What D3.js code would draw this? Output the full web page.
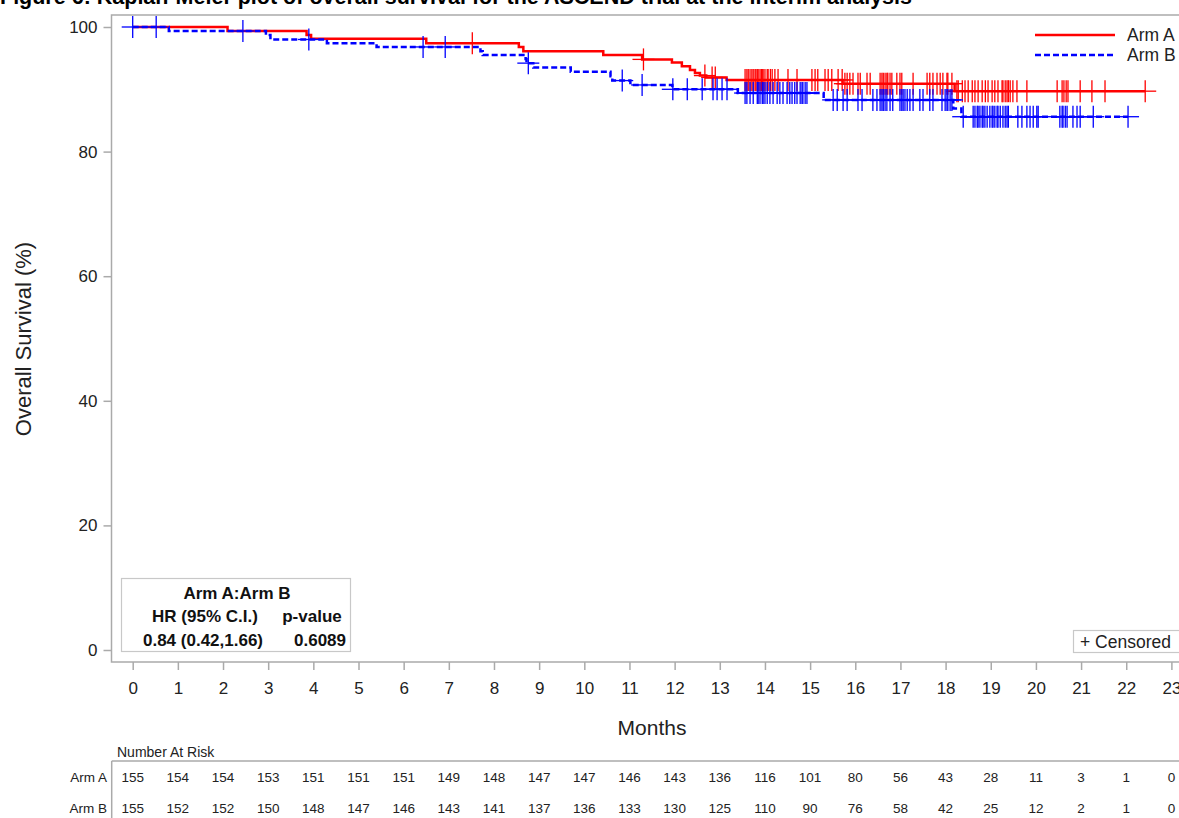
<!DOCTYPE html>
<html>
<head>
<meta charset="utf-8">
<script src="https://cdn.jsdelivr.net/npm/d3@7/dist/d3.min.js"></script>
<style>
  html, body { margin: 0; padding: 0; background: #fff; }
  svg { display: block; font-family: "Liberation Sans", Arial, Helvetica, sans-serif; }
</style>
</head>
<body>
<svg id="km" width="1179" height="818"></svg>
<script>
// ---- data ----
const xTicks = [0,1,2,3,4,5,6,7,8,9,10,11,12,13,14,15,16,17,18,19,20,21,22,23];
const yTicks = [0,20,40,60,80,100];

// Kaplan-Meier steps: month of each drop and survival (%) after it
const armAStepTime = [2.1, 3.85, 3.95, 6.5, 8.55, 8.65, 10.42, 11.28, 11.94, 12.16, 12.34, 12.45, 12.56, 12.7, 13.15, 15.72, 18.2];
const armAStepSurv = [99.35, 98.7, 98.1, 97.4, 96.8, 96.1, 95.5, 94.8, 94.3, 93.7, 93.1, 92.6, 92.2, 91.9, 91.5, 90.9, 89.7];
const armBStepTime = [0.8, 2.95, 3.05, 4.3, 5.4, 7.7, 7.75, 8.7, 8.72, 8.87, 9.7, 10.58, 10.62, 11.02, 11.95, 13.4, 15.3, 18.17, 18.35];
const armBStepSurv = [99.35, 98.7, 98.0, 97.4, 96.8, 96.1, 95.5, 94.85, 94.2, 93.5, 92.8, 92.1, 91.4, 90.7, 90.0, 89.4, 88.3, 86.9, 85.6];

// censoring times (months)
const armACensor = [7.52, 11.31, 12.67, 12.83, 12.9, 13.56, 13.6, 13.63, 13.67, 13.71, 13.74, 13.78, 13.8, 13.83, 13.85, 13.89, 13.92, 13.94, 13.96, 14.0, 14.05, 14.07, 14.12, 14.16, 14.22, 14.29, 14.51, 14.71,
  15.04, 15.11, 15.17, 15.33, 15.4, 15.48, 15.62, 15.71, 15.77, 15.82, 15.88, 15.95, 16.06, 16.11, 16.26, 16.33, 16.55, 16.59, 16.62, 16.66, 16.7, 16.72, 16.77, 16.81, 16.92, 16.99,
  17.03, 17.28, 17.59, 17.65, 17.72, 17.81, 17.88, 17.94, 18.03, 18.05, 18.14, 18.25, 18.28, 18.37, 18.43, 18.5, 18.59, 18.65, 18.72, 18.81, 18.88, 18.94,
  19.03, 19.09, 19.16, 19.25, 19.27, 19.32, 19.36, 19.39, 19.43, 19.49, 19.58, 19.8, 20.47, 20.58, 20.62, 20.67, 20.71, 20.98, 21.24, 21.53, 22.42];
const armBCensor = [0.0, 0.52, 2.44, 3.9, 6.43, 6.92, 8.76, 10.84, 11.28, 11.96, 12.28, 12.61, 12.85, 12.94, 13.05, 13.16,
  13.56, 13.6, 13.67, 13.74, 13.83, 13.85, 13.89, 13.94, 13.96, 14.0, 14.05, 14.11, 14.18, 14.27, 14.33, 14.4, 14.49, 14.55, 14.6, 14.66, 14.71, 14.78, 14.82, 14.84, 14.89, 14.93,
  15.51, 15.6, 15.73, 15.82, 16.06, 16.15, 16.39, 16.48, 16.55, 16.59, 16.62, 16.66, 16.7, 16.77, 16.83, 16.99, 17.03, 17.06, 17.1, 17.15, 17.21, 17.28, 17.43, 17.5, 17.65, 17.72,
  17.92, 17.99, 18.03, 18.05, 18.1, 18.14, 18.39, 18.61, 18.65, 18.7, 18.72, 18.76, 18.81, 18.83, 18.87, 18.92, 18.98, 19.03, 19.05, 19.09, 19.14, 19.16, 19.21, 19.27, 19.32, 19.36, 19.39,
  19.6, 19.69, 19.8, 19.87, 19.94, 20.02, 20.05, 20.53, 20.58, 20.6, 20.65, 20.69, 20.82, 20.91, 20.98, 21.27, 22.04];

// number at risk at each whole month
const riskA = [155,154,154,153,151,151,151,149,148,147,147,146,143,136,116,101,80,56,43,28,11,3,1,0];
const riskB = [155,152,152,150,148,147,146,143,141,137,136,133,130,125,110,90,76,58,42,25,12,2,1,0];

const armNames = ["Arm A", "Arm B"];
const hrHeader = "Arm A:Arm B";
const hrLabels = ["HR (95% C.I.)", "p-value"];
const hrValues = ["0.84 (0.42,1.66)", "0.6089"];

// ---- drawing ----
const svg = d3.select("#km");
const FONT = '"Liberation Sans", Arial, Helvetica, sans-serif';
const RED = "#ff0000", BLUE = "#0000ff", FRAME = "#aaaaaa", TEXT = "#222";

const x = d3.scaleLinear().domain([0, 23]).range([132.7, 1171.4]);
const y = d3.scaleLinear().domain([0, 100]).range([650, 27]);

const frame = { left: 111.5, top: 15, right: 1200, bottom: 662 };

// title (partly above the page edge)
svg.append("text")
  .attr("x", 0).attr("y", 4)
  .attr("font-size", 21.5).attr("font-weight", "bold").attr("fill", "#000")
  .text("Figure 6: Kaplan-Meier plot of overall survival for the ASCEND trial at the interim analysis");

// plot frame
svg.append("rect")
  .attr("x", frame.left).attr("y", frame.top)
  .attr("width", frame.right - frame.left).attr("height", frame.bottom - frame.top)
  .attr("fill", "none").attr("stroke", FRAME).attr("stroke-width", 1.5);

// y axis
const yAxis = d3.axisLeft(y).tickValues(yTicks).tickSize(8).tickPadding(6);
const gy = svg.append("g").attr("transform", `translate(${frame.left},0)`).call(yAxis);
gy.select(".domain").remove();
gy.selectAll(".tick line").attr("stroke", FRAME).attr("stroke-width", 1.5);
gy.selectAll(".tick text").attr("font-size", 17).attr("fill", TEXT).attr("font-family", FONT);

// x axis
const xAxis = d3.axisBottom(x).tickValues(xTicks).tickSize(8).tickPadding(12);
const gx = svg.append("g").attr("transform", `translate(0,${frame.bottom})`).call(xAxis);
gx.select(".domain").remove();
gx.selectAll(".tick line").attr("stroke", FRAME).attr("stroke-width", 1.5);
gx.selectAll(".tick text").attr("font-size", 17).attr("fill", TEXT).attr("font-family", FONT);

// axis titles
svg.append("text")
  .attr("transform", "translate(31,339) rotate(-90)")
  .attr("text-anchor", "middle").attr("font-size", 22).attr("fill", TEXT)
  .text("Overall Survival (%)");
svg.append("text")
  .attr("x", 652).attr("y", 735)
  .attr("text-anchor", "middle").attr("font-size", 21).attr("fill", TEXT)
  .text("Months");

// KM curves
function stepPoints(times, surv, endTime) {
  const pts = [[0, 100]];
  times.forEach((t, i) => pts.push([t, surv[i]]));
  pts.push([endTime, surv[surv.length - 1]]);
  return pts;
}
function survAt(times, surv, t) {
  let s = 100;
  times.forEach((tt, i) => { if (tt <= t) s = surv[i]; });
  return s;
}
const line = d3.line().x(d => x(d[0])).y(d => y(d[1])).curve(d3.curveStepAfter);

const arms = [
  { times: armAStepTime, surv: armAStepSurv, cens: armACensor, color: RED, dash: null },
  { times: armBStepTime, surv: armBStepSurv, cens: armBCensor, color: BLUE, dash: "6,3" }
];

const CS = 11; // censor mark half-size
arms.forEach(a => {
  const end = d3.max(a.cens);
  svg.append("path")
    .attr("d", line(stepPoints(a.times, a.surv, end)))
    .attr("fill", "none").attr("stroke", a.color).attr("stroke-width", 2.5)
    .attr("stroke-dasharray", a.dash);
  const g = svg.append("g").attr("stroke", a.color).attr("stroke-width", 1.3);
  a.cens.forEach(t => {
    const cx = x(t), cy = y(survAt(a.times, a.surv, t));
    g.append("line").attr("x1", cx).attr("x2", cx).attr("y1", cy - CS).attr("y2", cy + CS);
    g.append("line").attr("x1", cx - CS).attr("x2", cx + CS).attr("y1", cy).attr("y2", cy);
  });
});

// legend
const legend = svg.append("g").attr("font-size", 17.5).attr("fill", TEXT);
arms.forEach((a, i) => {
  const ly = 35 + i * 20;
  legend.append("line").attr("x1", 1035).attr("x2", 1115).attr("y1", ly).attr("y2", ly)
    .attr("stroke", a.color).attr("stroke-width", 2.5).attr("stroke-dasharray", a.dash);
  legend.append("text").attr("x", 1127).attr("y", ly).attr("dy", "0.35em").text(armNames[i]);
});

// hazard ratio box
svg.append("rect").attr("x", 121.5).attr("y", 578.5).attr("width", 229).attr("height", 73)
  .attr("fill", "#fff").attr("stroke", "#c8c8c8").attr("stroke-width", 1.2);
const hr = svg.append("g").attr("font-size", 17).attr("font-weight", "bold").attr("fill", "#111")
  .attr("text-anchor", "middle");
hr.append("text").attr("x", 237).attr("y", 593).attr("dy", "0.35em").text(hrHeader);
hr.append("text").attr("x", 205).attr("y", 616).attr("dy", "0.35em").text(hrLabels[0]);
hr.append("text").attr("x", 312).attr("y", 616).attr("dy", "0.35em").text(hrLabels[1]);
hr.append("text").attr("x", 203).attr("y", 640).attr("dy", "0.35em").text(hrValues[0]);
hr.append("text").attr("x", 320).attr("y", 640).attr("dy", "0.35em").text(hrValues[1]);

// censored key
svg.append("rect").attr("x", 1073.5).attr("y", 630.5).attr("width", 130).attr("height", 22)
  .attr("fill", "#fff").attr("stroke", "#c8c8c8").attr("stroke-width", 1.2);
svg.append("text").attr("x", 1080).attr("y", 642).attr("dy", "0.35em")
  .attr("font-size", 17.5).attr("fill", TEXT).text("+ Censored");

// number at risk table
svg.append("text").attr("x", 117).attr("y", 752).attr("dy", "0.35em")
  .attr("font-size", 14).attr("fill", TEXT).text("Number At Risk");
svg.append("line").attr("x1", 111.7).attr("x2", 1179).attr("y1", 761).attr("y2", 761)
  .attr("stroke", FRAME).attr("stroke-width", 1.5);
svg.append("line").attr("x1", 111.7).attr("x2", 111.7).attr("y1", 761).attr("y2", 818)
  .attr("stroke", FRAME).attr("stroke-width", 1.5);
[riskA, riskB].forEach((row, i) => {
  const ry = 777 + i * 31;
  svg.append("text").attr("x", 107).attr("y", ry).attr("dy", "0.35em")
    .attr("text-anchor", "end").attr("font-size", 13.5).attr("fill", TEXT).text(armNames[i]);
  svg.append("g").selectAll("text").data(row).join("text")
    .attr("x", (d, j) => x(xTicks[j])).attr("y", ry).attr("dy", "0.35em")
    .attr("text-anchor", "middle").attr("font-size", 13.5).attr("fill", TEXT)
    .text(d => d);
});
</script>
</body>
</html>
